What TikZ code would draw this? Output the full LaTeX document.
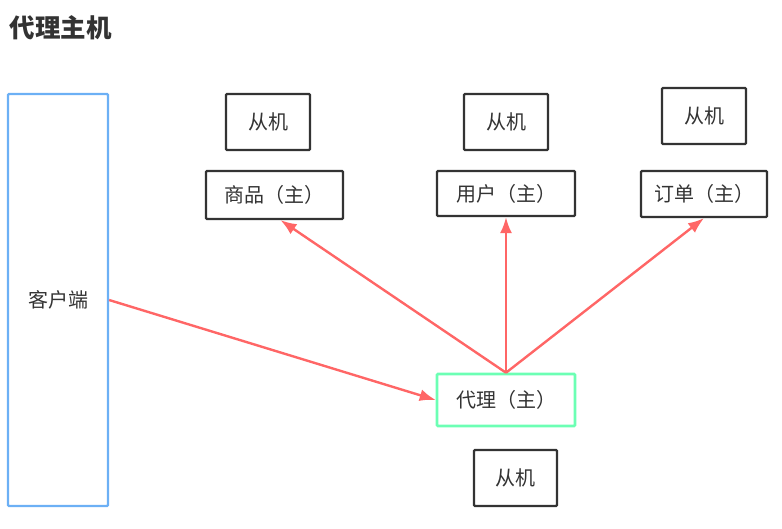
\documentclass[tikz,border=0pt]{standalone}
\usepackage{fontspec}
\setmainfont{Noto Sans CJK SC}
\usepackage{tikz}
\usetikzlibrary{arrows.meta}

\definecolor{boxgray}{HTML}{333333}
\definecolor{clientblue}{HTML}{6CB0F5}
\definecolor{proxygreen}{HTML}{6CFFB4}
\definecolor{linkred}{HTML}{FF6666}

\tikzset{
	server/.style={draw=boxgray, line width=2.2pt, rounded corners=1pt, text=boxgray, font=\fontsize{20}{24}\selectfont, inner sep=0pt},
	client/.style={server, draw=clientblue, minimum width=100pt, minimum height=412pt},
	proxy/.style={server, draw=proxygreen, line width=2.6pt},
	link/.style={draw=linkred, line width=2.4pt, -{Latex[length=16pt,width=12pt]}}
}

\begin{document}
\begin{tikzpicture}[x=1pt, y=-1pt]
			\useasboundingbox (0,0) rectangle (782,528);
			\node[text=boxgray, font=\fontsize{25.5}{28}\selectfont\bfseries, anchor=west] (title) at (6,28) {代理主机};
			\node[client] (client) at (58,300) {客户端};
			\node[server, minimum width=84pt, minimum height=56pt] (slaveA) at (268,122) {从机};
			\node[server, minimum width=137pt, minimum height=48pt] (goods) at (274.5,195) {商品（主）};
			\node[server, minimum width=84pt, minimum height=56pt] (slaveB) at (506,122) {从机};
			\node[server, minimum width=138pt, minimum height=45pt] (user) at (506,193.5) {用户（主）};
			\node[server, minimum width=84pt, minimum height=56pt] (slaveC) at (704,116) {从机};
			\node[server, minimum width=126pt, minimum height=46pt] (order) at (704,194) {订单（主）};
			\node[proxy, minimum width=138pt, minimum height=52pt] (proxy) at (506,400) {代理（主）};
			\node[server, minimum width=83pt, minimum height=56pt] (slaveD) at (515.5,478) {从机};
			\draw[link] (client.east) -- (proxy.west);
			\draw[link] (proxy.north) -- ([xshift=6pt]goods.south);
			\draw[link] (proxy.north) -- (user.south);
			\draw[link] (proxy.north) -- (order.south);
		\end{tikzpicture}
\end{document}
